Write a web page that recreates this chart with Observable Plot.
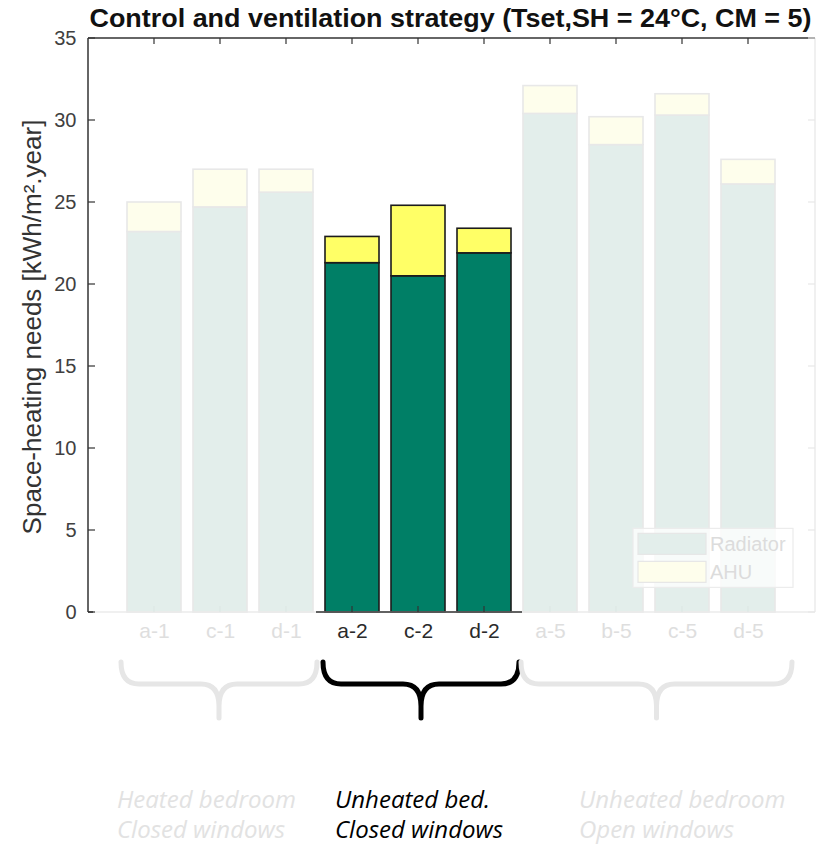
<!DOCTYPE html>
<html>
<head>
<meta charset="utf-8">
<script src="https://cdn.jsdelivr.net/npm/d3@7"></script>
<script src="https://cdn.jsdelivr.net/npm/@observablehq/plot@0.6"></script>
<style>
  html, body { margin: 0; padding: 0; background: #fff; }
  #chart { position: relative; width: 819px; height: 844px; }
</style>
</head>
<body>
<div id="chart"></div>
<script>
// ---- data ----
const categories = ["a-1", "c-1", "d-1", "a-2", "c-2", "d-2", "a-5", "b-5", "c-5", "d-5"];
const radiator   = [23.2, 24.7, 25.6, 21.3, 20.5, 21.9, 30.4, 28.5, 30.3, 26.1];
const ahu        = [1.8, 2.3, 1.4, 1.6, 4.3, 1.5, 1.7, 1.7, 1.3, 1.5];
const highlighted = ["a-2", "c-2", "d-2"];
const yTicks = [0, 5, 10, 15, 20, 25, 30, 35];
const sources = ["Radiator", "AHU"];
const groupFirst = ["a-1", "a-2", "a-5"];
const groupLast  = ["d-1", "d-2", "d-5"];
const groupLine1 = ["Heated bedroom", "Unheated bed.", "Unheated bedroom"];
const groupLine2 = ["Closed windows", "Closed windows", "Open windows"];
const titleText = "Control and ventilation strategy (Tset,SH = 24°C, CM = 5)";
const yLabel = "Space-heating needs [kWh/m².year]";

// ---- styles ----
const colors = {
  Radiator: {on: "#007f66", off: "#e3eeeb"},
  AHU: {on: "#ffff66", off: "#fefeec"}
};
const strokeOn = "#1c1c1c", strokeOff = "#e8e8e8";
const darkText = "#2a2a2a";
const isOn = c => highlighted.includes(c);

const rows = [];
categories.forEach((c, i) => {
  rows.push({cat: c, source: "Radiator", value: radiator[i]});
  rows.push({cat: c, source: "AHU", value: ahu[i]});
});

const W = 819, H = 844;
const plot = Plot.plot({
  width: W, height: H,
  marginTop: 38, marginLeft: 88, marginRight: 4, marginBottom: 232,
  style: {fontFamily: "'Liberation Sans', Arial, sans-serif", background: "white"},
  x: {type: "band", domain: categories, paddingInner: 0.18, paddingOuter: 0.59, axis: null},
  y: {domain: [0, 35], axis: null},
  color: {type: "identity"},
  marks: [
    Plot.barY(rows, Plot.stackY({
      x: "cat", y: "value",
      fill: d => isOn(d.cat) ? colors[d.source].on : colors[d.source].off,
      stroke: d => isOn(d.cat) ? strokeOn : strokeOff,
      strokeWidth: 1.6
    })),
    Plot.axisY({ticks: yTicks, tickSize: 0, tickPadding: 12, fontSize: 20, fill: "#404040", label: null}),
    Plot.text(categories, {
      x: d => d, frameAnchor: "bottom", dy: 25, fontSize: 21,
      fill: d => isOn(d) ? darkText : "#dedede"
    })
  ]
});
document.getElementById("chart").appendChild(plot);

// ---- decorations built from the plot's scales ----
const xs = plot.scale("x"), ys = plot.scale("y");
const bw = xs.bandwidth;
const X = c => xs.apply(c);
const Y = v => ys.apply(v);
const fL = 88, fR = W - 4, fT = Y(35), fB = Y(0);
const svg = d3.select(plot);
const g = svg.append("g");

// frame: left, top dark; right faint; bottom faint except highlighted group
const hl0 = X(highlighted[0]) - (xs.step - bw) / 2 - 3;
const hl1 = X(highlighted[highlighted.length - 1]) + bw + (xs.step - bw) / 2 + 5;
function ln(x1, y1, x2, y2, c, w) {
  g.append("line").attr("x1", x1).attr("y1", y1).attr("x2", x2).attr("y2", y2)
    .attr("stroke", c).attr("stroke-width", w);
}
ln(fR, fT, fR, fB, "#ebebeb", 1.5);
ln(fL, fB, fR, fB, "#ebebeb", 1.5);
ln(hl0, fB, hl1, fB, "#333", 1.5);
ln(fL, fB, fL + 5, fB, "#333", 1.5);
ln(fL, fT, fL, fB, "#333", 1.5);
ln(fL, fT, fR, fT, "#333", 1.5);

// inward ticks
yTicks.forEach(v => {
  ln(fL, Y(v), fL + 7, Y(v), "#333", 1.2);
  ln(fR - 7, Y(v), fR, Y(v), "#e8e8e8", 1.2);
});
categories.forEach(c => {
  const cx = X(c) + bw / 2;
  ln(cx, fT, cx, fT + 6, "#333", 1.2);
  ln(cx, fB - 6, cx, fB, isOn(c) ? "#333" : "#dde8e5", 1.2);
});

// title and y label
svg.append("text").attr("x", (fL + fR) / 2 - 1).attr("y", 27).attr("text-anchor", "middle")
  .attr("font-size", 26).attr("font-weight", "bold").attr("fill", "#111")
  .attr("textLength", 722).attr("lengthAdjust", "spacingAndGlyphs").text(titleText);
svg.append("text").attr("transform", `translate(41,${(fT + fB) / 2 + 2}) rotate(-90)`)
  .attr("text-anchor", "middle").attr("font-size", 26).attr("fill", "#333").text(yLabel);

// legend
const lx = X("c-5") - 22, ly = Y(5.1);
const lg = svg.append("g");
lg.append("rect").attr("x", lx).attr("y", ly).attr("width", 160).attr("height", 59)
  .attr("fill", "white").attr("fill-opacity", 0.75).attr("stroke", "#ececec").attr("stroke-width", 1.2);
sources.forEach((s, i) => {
  lg.append("rect").attr("x", lx + 5).attr("y", ly + 5 + i * 28).attr("width", 68).attr("height", 21)
    .attr("fill", colors[s].off).attr("stroke", "#e6e6e6").attr("stroke-width", 1.2);
  lg.append("text").attr("x", lx + 77).attr("y", ly + 23 + i * 28).attr("font-size", 20)
    .attr("text-anchor", "start").attr("fill", "#dcdcdc").text(s);
});

// braces + group labels
const braceTop = fB + 50;
const extL = [6, 2, 2], extR = [4, 8, 17];
const labelDx = [-4, 12, 58];
groupFirst.forEach((f, i) => {
  const on = groupFirst[i] === highlighted[0];
  const x0 = X(f) - extL[i];
  const x1 = X(groupLast[i]) + bw + extR[i];
  const m = (x0 + x1) / 2;
  const y0 = braceTop, yh = braceTop + 22, yt = braceTop + 56;
  const r = 18;
  const p = d3.path();
  p.moveTo(x0, y0);
  p.quadraticCurveTo(x0, yh, x0 + r, yh);
  p.lineTo(m - r, yh);
  p.quadraticCurveTo(m, yh, m, yh + 22);
  p.lineTo(m, yt);
  p.moveTo(x1, y0);
  p.quadraticCurveTo(x1, yh, x1 - r, yh);
  p.lineTo(m + r, yh);
  p.quadraticCurveTo(m, yh, m, yh + 22);
  svg.append("path").attr("d", p.toString()).attr("fill", "none")
    .attr("stroke", on ? "#000" : "#e6e6e6").attr("stroke-width", 5)
    .attr("stroke-linecap", "round").attr("stroke-linejoin", "round");
  const tx = x0 + labelDx[i];
  const t = svg.append("text").attr("x", tx).attr("font-size", 24).attr("font-style", "italic")
    .attr("text-anchor", "start")
    .attr("font-family", "'Open Sans', sans-serif").attr("fill", on ? "#000" : "#e2e2e2");
  t.append("tspan").attr("x", tx).attr("y", 808).text(groupLine1[i]);
  t.append("tspan").attr("x", tx).attr("y", 838).text(groupLine2[i]);
});
</script>
</body>
</html>
